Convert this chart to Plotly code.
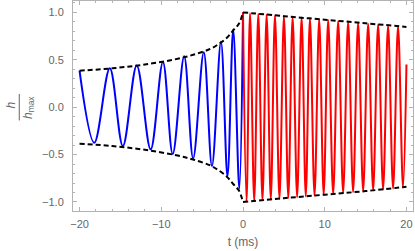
import plotly.graph_objects as go

# Blue (inspiral) extrema
blue_t = [-20.0, -18.2, -16.3, -14.7, -13.0, -11.3, -9.8, -8.6, -7.2, -6.1,
          -4.8, -3.8, -2.7, -1.9, -1.2, -0.45, 0.0]
blue_h = [0.385, -0.375, 0.41, -0.41, 0.44, -0.445, 0.477, -0.495, 0.537, -0.54,
          0.58, -0.62, 0.69, -0.73, 0.82, -0.86, 1.0]

# Red extrema
red_t = [0.0, 0.43, 0.86, 1.37, 1.87, 2.38, 2.89, 3.40, 3.91, 4.46, 5.01, 5.54,
         6.07, 6.62, 7.17, 7.68, 8.19, 8.75, 9.32, 9.87, 10.42, 11.03, 11.64,
         12.25, 12.86, 13.47, 14.08, 14.70, 15.31, 15.92, 16.53, 17.14, 17.75,
         18.36, 18.97, 19.58, 20.0]
red_h = [1.0, -0.995, 0.99, -0.99, 0.985, -0.982, 0.978, -0.974, 0.97, -0.966,
         0.962, -0.958, 0.953, -0.95, 0.945, -0.941, 0.937, -0.933, 0.928, -0.924,
         0.92, -0.915, 0.91, -0.905, 0.90, -0.896, 0.89, -0.886, 0.88, -0.877,
         0.872, -0.867, 0.862, -0.858, 0.853, -0.848, 0.45]

# Envelopes
env_blue_t = [-20, -16, -12, -8, -6, -4, -3, -2, -1.2, -0.5, 0]
env_blue_up = [0.385, 0.41, 0.45, 0.51, 0.555, 0.615, 0.665, 0.73, 0.81, 0.88, 1.0]
env_blue_lo = [-0.385, -0.41, -0.45, -0.51, -0.555, -0.615, -0.665, -0.73, -0.81, -0.88, -1.0]
env_red_t = [0, 5, 10, 15, 20]
env_red_up = [1.0, 0.96, 0.923, 0.885, 0.847]
env_red_lo = [-1.0, -0.96, -0.923, -0.885, -0.84]

x_ticks = [-20, -10, 0, 10, 20]
x_ticktext = ["\u221220", "\u221210", "0", "10", "20"]
y_ticks = [-1.0, -0.5, 0.0, 0.5, 1.0]
y_ticktext = ["\u22121.0", "\u22120.5", "0.0", "0.5", "1.0"]

fig = go.Figure()
fig.add_trace(go.Scatter(x=blue_t, y=blue_h, mode="lines",
                         line=dict(color="#0000ff", width=2, shape="spline", smoothing=1.0)))
fig.add_trace(go.Scatter(x=red_t, y=red_h, mode="lines",
                         line=dict(color="#ff0000", width=2, shape="spline", smoothing=1.0)))
for tt, yy in [(env_blue_t, env_blue_up), (env_blue_t, env_blue_lo),
               (env_red_t, env_red_up), (env_red_t, env_red_lo)]:
    fig.add_trace(go.Scatter(x=tt, y=yy, mode="lines",
                             line=dict(color="black", width=2, dash="5px,3px", shape="spline")))

frame = "#b3b3b3"
tickfont = dict(family="Liberation Sans, Arial, sans-serif", size=11, color="#666666")
fig.update_xaxes(range=[-20.8, 20.8], showgrid=False, zeroline=False, automargin=False,
                 showline=True, linecolor=frame, linewidth=1, mirror="ticks",
                 ticks="inside", ticklen=4, tickcolor=frame, tickwidth=1,
                 tickvals=x_ticks, ticktext=x_ticktext, tickfont=tickfont,
                 ticklabelstandoff=3,
                 minor=dict(ticks="inside", ticklen=2, tickcolor=frame, dtick=2, tick0=0),
                 title=dict(text="t (ms)", font=dict(family="Liberation Sans, Arial, sans-serif", size=12, color="#666666"), standoff=8))
fig.update_yaxes(range=[-1.095, 1.12], showgrid=False, zeroline=False, automargin=False,
                 showline=True, linecolor=frame, linewidth=1, mirror="ticks",
                 ticks="inside", ticklen=4, tickcolor=frame, tickwidth=1,
                 tickvals=y_ticks, ticktext=y_ticktext, tickfont=tickfont,
                 ticklabelstandoff=6,
                 minor=dict(ticks="inside", ticklen=2, tickcolor=frame, dtick=0.1, tick0=0))

lblfont = dict(family="Liberation Sans, Arial, sans-serif", size=12, color="#666666")
fig.add_annotation(xref="paper", yref="y", x=-0.182, y=0.02, text="<i>h</i>",
                   showarrow=False, textangle=-90, font=lblfont, xanchor="center", yanchor="middle")
fig.add_annotation(xref="paper", yref="y", x=-0.13, y=0.0, text="<i>h</i><sub>max</sub>",
                   showarrow=False, textangle=-90, font=lblfont, xanchor="center", yanchor="middle")
fig.add_shape(type="line", xref="paper", yref="y", x0=-0.158, x1=-0.158, y0=-0.14, y1=0.14,
              line=dict(color="#666666", width=1))

fig.update_layout(width=415, height=251, margin=dict(l=73, r=2, t=1, b=40, autoexpand=False),
                  plot_bgcolor="white", paper_bgcolor="white", showlegend=False)
fig.write_html("out.html", config={"displayModeBar": False},
               post_script="document.body.style.margin='0';document.body.style.padding='0';")
